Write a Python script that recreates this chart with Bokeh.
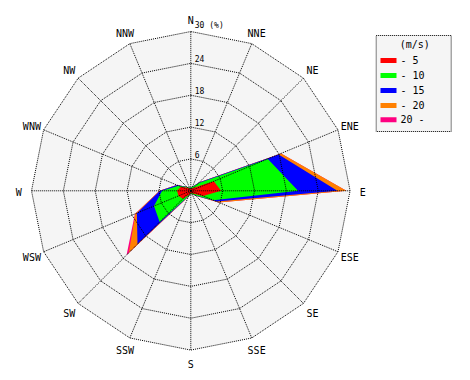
import numpy as np
from bokeh.plotting import figure
from bokeh.models import Range1d
from bokeh.core.properties import value
from bokeh.embed import file_html
from bokeh.resources import INLINE

# ---------------- data ----------------
directions = ["N", "NNE", "NE", "ENE", "E", "ESE", "SE", "SSE",
              "S", "SSW", "SW", "WSW", "W", "WNW", "NW", "NNW"]
speed_classes = ["- 5", "- 10", "- 15", "- 20", "20 -"]
class_colors = ["#ff0000", "#00ff00", "#0000ff", "#ff8000", "#ff0080"]

# frequency (%) of each wind-speed class per direction
freq_0_5 = [0.4, 0.5, 0.8, 4.7, 5.7, 2.5, 0.8, 0.5, 0.4, 0.8, 2.1, 2.5, 2.6, 2.0, 0.8, 0.4]
freq_5_10 = [0.2, 0.3, 1.2, 11.0, 14.5, 2.1, 0.4, 0.2, 0.2, 0.2, 6.2, 5.0, 2.8, 0.5, 0.2, 0.2]
freq_10_15 = [0.0, 0.1, 0.2, 2.2, 7.4, 0.7, 0.1, 0.0, 0.0, 0.1, 5.9, 3.5, 0.4, 0.3, 0.1, 0.0]
freq_15_20 = [0.0, 0.0, 0.1, 0.5, 1.7, 0.4, 0.0, 0.0, 0.0, 0.1, 2.3, 0.3, 0.1, 0.1, 0.0, 0.0]
freq_20_up = [0.0, 0.0, 0.0, 0.0, 0.0, 0.0, 0.0, 0.0, 0.0, 0.0, 0.6, 0.1, 0.0, 0.0, 0.0, 0.0]

ring_ticks = [6, 12, 18, 24, 30]
ring_labels = ["6", "12", "18", "24", "30 (%)"]
legend_title = "(m/s)"

# ---------------- layout ----------------
W, H = 460, 372
CX, CY = 190.3, 190.3          # centre in figure pixels
K = 159.3 / 30.0               # pixels per percent
RMAX = ring_ticks[-1]


def px(xp, yp):
    """figure-pixel position -> data coordinates"""
    return (xp - CX) / K, (CY - yp) / K


p = figure(width=W, height=H, output_backend="svg", toolbar_location=None,
           x_range=Range1d(-CX / K, (W - CX) / K),
           y_range=Range1d((CY - H) / K, CY / K),
           min_border=0, x_axis_location=None, y_axis_location=None)
p.grid.visible = False
p.outline_line_color = None
p.background_fill_color = "white"
p.border_fill_color = "white"

ang = np.deg2rad(np.arange(len(directions)) * 360.0 / len(directions))
sx, sy = np.sin(ang), np.cos(ang)

# background disc (16-gon)
p.patch(list(RMAX * sx), list(RMAX * sy), fill_color="#f5f5f5", line_color=None)

# stacked polygons
series = [freq_0_5, freq_5_10, freq_10_15, freq_15_20, freq_20_up]
cum = np.cumsum(np.array(series), axis=0)
for i in range(len(series) - 1, -1, -1):
    r = cum[i]
    p.patch(list(r * sx), list(r * sy), fill_color=class_colors[i],
            line_color=None)

# grid: rings and spokes
for t in ring_ticks:
    xs = list(t * sx) + [t * sx[0]]
    ys = list(t * sy) + [t * sy[0]]
    p.line(xs, ys, line_color="black", line_width=1, line_dash="1 1")
p.multi_line([[0, RMAX * a] for a in sx], [[0, RMAX * b] for b in sy],
             line_color="black", line_width=1, line_dash="1 1")

# direction labels
RL = 172.0 / K
p.text(x=list(RL * sx), y=list(RL * sy - 1.2 / K), text=directions,
       text_font=value("DejaVu Sans Mono"), text_font_size="10px",
       text_align="center", text_baseline="middle", text_color="black")

# ring value labels along the N spoke
p.text(x=[4.0 / K] * len(ring_ticks), y=[t + 0.2 for t in ring_ticks], text=ring_labels,
       text_font=value("DejaVu Sans Mono"), text_font_size="8px",
       text_align="left", text_baseline="bottom", text_color="black")

# legend box
bx0, by0 = px(375.7, 35)
bx1, by1 = px(450.7, 131)
p.patch([bx0, bx1, bx1, bx0], [by0, by0, by1, by1], fill_color="#f5f5f5",
        line_color="black", line_width=1, line_dash="1 1")
tx, ty = px(414.3, 43.5)
p.text(x=[tx], y=[ty], text=[legend_title], text_font=value("DejaVu Sans Mono"),
       text_font_size="10px", text_align="center", text_baseline="middle")
row_y = [60, 75, 90, 105, 119.3]
for i, lab in enumerate(speed_classes):
    x0, y0 = px(380, row_y[i] - 2.5)
    x1, y1 = px(396, row_y[i] + 2.5)
    p.quad(left=x0, right=x1, top=y0, bottom=y1, fill_color=class_colors[i],
           line_color=None)
    lx, ly = px(400, row_y[i])
    p.text(x=[lx], y=[ly], text=[lab], text_font=value("DejaVu Sans Mono"),
           text_font_size="10px", text_align="left", text_baseline="middle")

open("out.html", "w").write(file_html(p, INLINE))
